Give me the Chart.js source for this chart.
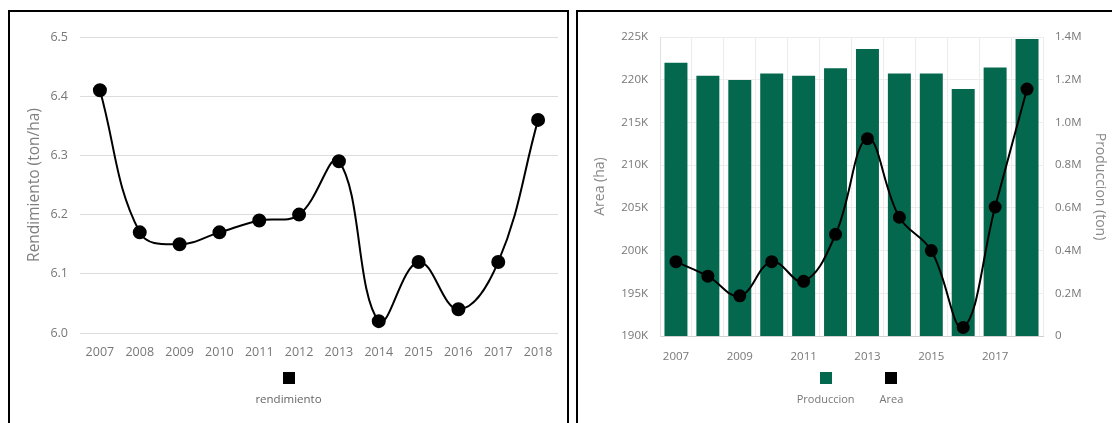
<!DOCTYPE html>
<html>
<head>
<meta charset="utf-8">
<script src="https://cdn.jsdelivr.net/npm/chart.js@4.4.1/dist/chart.umd.min.js"></script>
<style>
  body { margin: 0; background: #fff; width: 1112px; height: 423px; overflow: hidden; position: relative; }
  .panel { position: absolute; border: 2px solid #000; background: #fff; }
  #leftPanel { left: 8px; top: 10px; width: 557px; height: 420px; }
  #rightPanel { left: 576px; top: 10px; width: 540px; height: 420px; }
  canvas { position: absolute; left: 0; top: 0; }
</style>
</head>
<body>
<div class="panel" id="leftPanel"><canvas id="rendChart" width="557" height="411"></canvas></div>
<div class="panel" id="rightPanel"><canvas id="prodChart" width="534" height="411"></canvas></div>
<script>
// data
const years = ['2007', '2008', '2009', '2010', '2011', '2012', '2013', '2014', '2015', '2016', '2017', '2018'];
const rendimiento = [6.41, 6.17, 6.15, 6.17, 6.19, 6.20, 6.29, 6.02, 6.12, 6.04, 6.12, 6.36];
const produccion = [1279000, 1218000, 1199000, 1229000, 1218000, 1254000, 1344000, 1229000, 1229000, 1156000, 1257000, 1391000];
const area = [198700, 197000, 194700, 198700, 196400, 201900, 213100, 203900, 200000, 191000, 205100, 218900];

Chart.defaults.font.family = "'Open Sans', sans-serif";
Chart.defaults.color = '#777';
Chart.defaults.animation = false;

// legend with the colour square sitting above its label
const stackedLegend = {
  id: 'stackedLegend',
  afterDraw(chart, args, opts) {
    const ctx = chart.ctx;
    ctx.save();
    ctx.font = opts.fontSize + "px 'Open Sans', sans-serif";
    const items = chart.data.datasets.map(ds => ({ text: ds.label, color: ds.legendColor }));
    const widths = items.map(it => ctx.measureText(it.text).width);
    const total = widths.reduce((a, b) => a + b, 0) + opts.gap * (items.length - 1);
    let x = chart.width / 2 + (opts.offsetX || 0) - total / 2;
    items.forEach((it, i) => {
      const cx = x + widths[i] / 2;
      ctx.fillStyle = it.color;
      ctx.fillRect(Math.round(cx - opts.box / 2), opts.boxTop, opts.box, opts.box);
      ctx.fillStyle = opts.color;
      ctx.textAlign = 'center';
      ctx.textBaseline = 'middle';
      ctx.fillText(it.text, cx, opts.textY);
      x += widths[i] + opts.gap;
    });
    ctx.restore();
  }
};

new Chart(document.getElementById('rendChart'), {
  type: 'line',
  plugins: [stackedLegend],
  data: {
    labels: years,
    datasets: [{
      label: 'rendimiento',
      data: rendimiento,
      legendColor: '#000',
      borderColor: '#000',
      backgroundColor: '#000',
      borderWidth: 2,
      pointRadius: 6,
      pointBackgroundColor: '#000',
      pointBorderColor: '#000',
      tension: 0.4
    }]
  },
  options: {
    responsive: false,
    layout: { padding: { left: 11, right: 9, top: 25, bottom: 65 } },
    plugins: {
      legend: { display: false },
      tooltip: { enabled: false },
      stackedLegend: { fontSize: 11.5, color: '#666', box: 12, boxTop: 360, textY: 388, gap: 20 }
    },
    scales: {
      x: {
        offset: true,
        grid: { display: false, drawTicks: false },
        border: { display: false },
        ticks: { padding: 12, maxRotation: 0, autoSkip: false, font: { size: 12.5 } },
        afterFit: s => { s.height = 25; }
      },
      y: {
        min: 6.0,
        max: 6.5,
        ticks: { stepSize: 0.1, padding: 12, font: { size: 12.5 }, callback: v => v.toFixed(1) },
        grid: { color: '#dcdcdc', drawTicks: false },
        border: { display: false },
        title: { display: true, text: 'Rendimiento (ton/ha)', color: '#808080', font: { size: 15.5 } },
        afterFit: s => { s.width = 59; }
      }
    }
  }
});

new Chart(document.getElementById('prodChart'), {
  type: 'bar',
  plugins: [stackedLegend],
  data: {
    labels: years,
    datasets: [{
      type: 'bar',
      label: 'Produccion',
      data: produccion,
      yAxisID: 'yProd',
      legendColor: '#04684e',
      backgroundColor: '#04684e',
      order: 1
    }, {
      type: 'line',
      label: 'Area',
      data: area,
      yAxisID: 'yArea',
      legendColor: '#000',
      borderColor: '#000',
      backgroundColor: '#000',
      borderWidth: 2,
      pointRadius: 5.5,
      pointBackgroundColor: '#000',
      pointBorderColor: '#000',
      tension: 0.4,
      order: 0
    }]
  },
  options: {
    responsive: false,
    layout: { padding: { left: 10, right: 0, top: 25, bottom: 62 } },
    plugins: {
      legend: { display: false },
      tooltip: { enabled: false },
      stackedLegend: { fontSize: 11, color: '#777', box: 12, boxTop: 360, textY: 388, gap: 25, offsetX: 5 }
    },
    scales: {
      x: {
        grid: { color: '#ececec', drawTicks: false },
        border: { color: '#d0d0d0' },
        ticks: { padding: 14, maxRotation: 0, autoSkip: false, font: { size: 11.5 },
          callback: function (v, i) { return i % 2 === 0 ? this.getLabelForValue(v) : ''; } },
        afterFit: s => { s.height = 25; }
      },
      yArea: {
        position: 'left',
        min: 190000,
        max: 225000,
        ticks: { stepSize: 5000, padding: 12, font: { size: 11.5 }, callback: v => (v / 1000) + 'K' },
        grid: { color: '#ececec', drawTicks: false },
        border: { color: '#e0e0e0' },
        title: { display: true, text: 'Area (ha)', color: '#888', font: { size: 14 } },
        afterFit: s => { s.width = 72; }
      },
      yProd: {
        position: 'right',
        min: 0,
        max: 1400000,
        ticks: { stepSize: 200000, padding: 12, font: { size: 11.5 },
          callback: v => v === 0 ? '0' : (v / 1000000).toFixed(1) + 'M' },
        grid: { display: false, drawTicks: false },
        border: { display: false },
        title: { display: true, text: 'Produccion (ton)', color: '#888', font: { size: 14 } },
        afterFit: s => { s.width = 69; }
      }
    }
  }
});
</script>
</body>
</html>
